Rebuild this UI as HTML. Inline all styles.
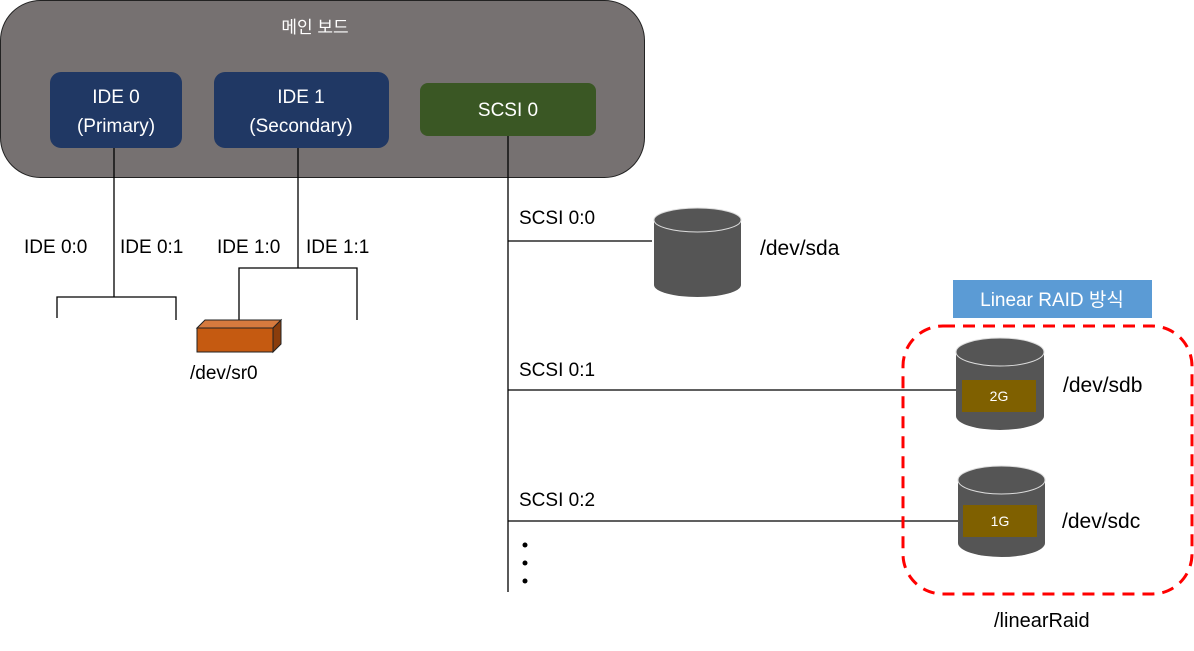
<!DOCTYPE html>
<html><head><meta charset="utf-8"><style>html,body{margin:0;padding:0;background:#fff}svg{display:block}text{font-family:"Liberation Sans","Noto Sans CJK KR",sans-serif}</style></head>
<body>
<svg width="1194" height="651" viewBox="0 0 1194 651" xmlns="http://www.w3.org/2000/svg">
<rect x="0.5" y="0.5" width="644" height="177" rx="40" fill="#767171" stroke="#222" stroke-width="1"/>
<text x="315" y="33" fill="#fff" font-size="17" text-anchor="middle">메인 보드</text>
<rect x="50" y="72" width="132" height="76" rx="11" fill="#203864"/>
<text x="116" y="103" fill="#fff" font-size="19" text-anchor="middle">IDE 0</text>
<text x="116" y="132" fill="#fff" font-size="19" text-anchor="middle">(Primary)</text>
<rect x="214" y="72" width="175" height="76" rx="11" fill="#203864"/>
<text x="301" y="103" fill="#fff" font-size="19" text-anchor="middle">IDE 1</text>
<text x="301" y="132" fill="#fff" font-size="19" text-anchor="middle">(Secondary)</text>
<rect x="420" y="83" width="176" height="53" rx="8" fill="#3a5724"/>
<text x="508" y="116" fill="#fff" font-size="19" text-anchor="middle">SCSI 0</text>
<g stroke="#000" stroke-width="1.3" fill="none">
<path d="M114 148V297M57 318V297H176V320"/>
<path d="M298 148V268M239 322V268H357V320"/>
<path d="M508 136V592M508 241H652M508 390H956M508 521H958"/>
</g>
<g font-size="19" fill="#000">
<text x="24" y="253">IDE 0:0</text><text x="120" y="253">IDE 0:1</text>
<text x="217" y="253">IDE 1:0</text><text x="306" y="253">IDE 1:1</text>
<text x="519" y="224">SCSI 0:0</text><text x="519" y="376">SCSI 0:1</text><text x="519" y="506">SCSI 0:2</text>
<text x="190" y="379">/dev/sr0</text>
</g>
<polygon points="197,328 205,320 281,320 273,328" fill="#d67a3e" stroke="#222"/>
<polygon points="273,328 281,320 281,344 273,352" fill="#8a3d0c" stroke="#222"/>
<rect x="197" y="328" width="76" height="24" fill="#c55a11" stroke="#222"/>
<g fill="#000"><circle cx="525" cy="545" r="2.5"/><circle cx="525" cy="563" r="2.5"/><circle cx="525" cy="581" r="2.5"/></g>
<g>
<path d="M654 220V285A43.5 12 0 0 0 741 285V220Z" fill="#555"/>
<ellipse cx="697.5" cy="220" rx="43.5" ry="12" fill="#555" stroke="#ddd" stroke-width="1"/>
<path d="M956 352V416A44 14 0 0 0 1044 416V352Z" fill="#555"/>
<ellipse cx="1000" cy="352" rx="44" ry="14" fill="#555" stroke="#ddd"/>
<rect x="962" y="380" width="74" height="32" fill="#7f6000"/>
<text x="999" y="401" fill="#fff" font-size="14" text-anchor="middle">2G</text>
<path d="M958 480V543A43.5 14 0 0 0 1045 543V480Z" fill="#555"/>
<ellipse cx="1001.5" cy="480" rx="43.5" ry="14" fill="#555" stroke="#ddd"/>
<rect x="963" y="505" width="74" height="32" fill="#7f6000"/>
<text x="1000" y="526" fill="#fff" font-size="14" text-anchor="middle">1G</text>
</g>
<g font-size="21" fill="#000"><text x="760" y="255">/dev/sda</text><text x="1063" y="392">/dev/sdb</text><text x="1062" y="528">/dev/sdc</text><text x="994" y="627" font-size="20">/linearRaid</text></g>
<rect x="953" y="280" width="199" height="38" fill="#5b9bd5"/>
<text x="1052" y="306" fill="#fff" font-size="19" text-anchor="middle">Linear RAID 방식</text>
<rect x="903" y="326" width="289" height="268" rx="40" fill="none" stroke="#f00" stroke-width="3" stroke-dasharray="12 8"/>
</svg>
</body></html>
